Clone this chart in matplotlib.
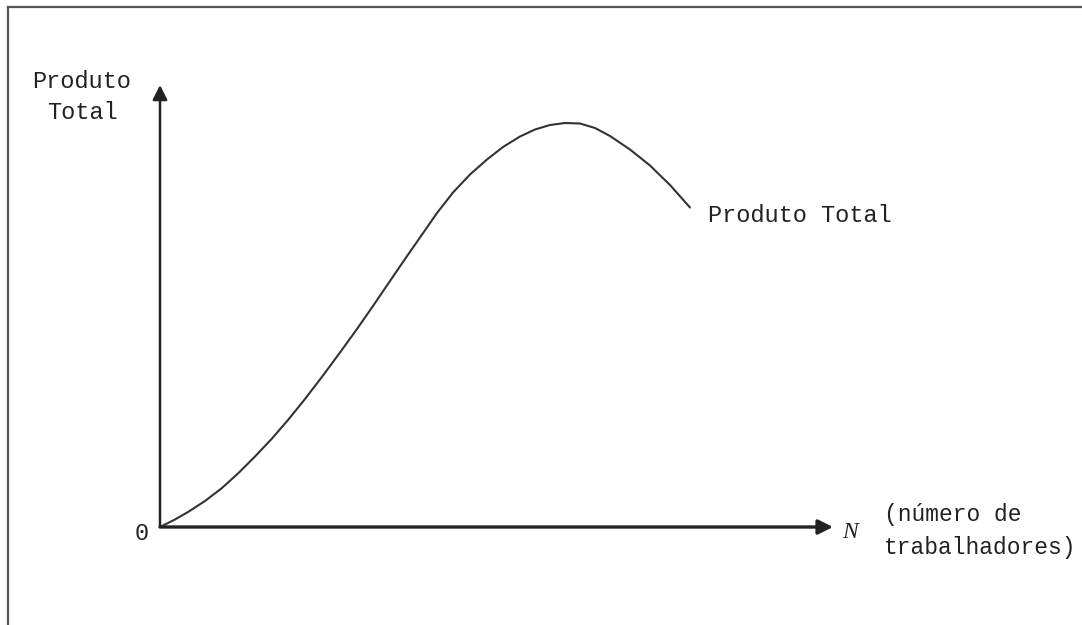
import matplotlib
matplotlib.use("Agg")
import matplotlib.pyplot as plt
from matplotlib.lines import Line2D

# Data (arbitrary units)
workers = [0, 1.5, 2.8, 4.5, 6.2, 7.8, 9.5, 11.2, 12.8, 14.5, 16.3, 18.0, 19.7,
           21.3, 23.0, 24.5, 26.0, 27.7, 29.3, 31.0, 32.7, 34.3, 36.0, 37.5,
           39.0, 40.5, 42.0, 43.5, 45.0, 47.0, 49.0, 51.0, 53.0]
total_product = [0, 0.75, 1.5, 2.6, 3.9, 5.35, 7.05, 8.85, 10.7, 12.8, 15.15,
                 17.45, 19.8, 22.1, 24.6, 26.8, 28.95, 31.4, 33.45, 35.25, 36.75,
                 38.0, 39.05, 39.75, 40.2, 40.4, 40.35, 39.9, 39.1, 37.75, 36.15,
                 34.2, 31.95]

ylabel_text = "Produto\nTotal"
curve_label = "Produto Total"
xlabel_text = "(número de\ntrabalhadores)"
x_symbol = "N"
origin_label = "0"

W, H = 1082, 625
fig = plt.figure(figsize=(W / 100, H / 100), dpi=100)

def fx(px):
    return px / W

def fy(py):
    return 1 - py / H

# frame (top and left borders)
fig.add_artist(Line2D([fx(8), fx(8)], [0, fy(7)], color="#555555", lw=1.6))
fig.add_artist(Line2D([fx(8), 1], [fy(7), fy(7)], color="#555555", lw=1.6))

x0, y0, x1, y1 = 160, 527, 833, 85
ax = fig.add_axes([fx(x0), fy(y0), (x1 - x0) / W, (y0 - y1) / H])
ax.set_xlim(0, 67.3)
ax.set_ylim(0, 44.2)
ax.axis("off")

# axes with arrows
ax.annotate("", xy=(1, 0), xycoords="axes fraction", xytext=(0, 0),
            arrowprops=dict(arrowstyle="-|>", color="#222222", lw=2.4,
                            mutation_scale=22, shrinkA=0, shrinkB=0),
            annotation_clip=False)
ax.annotate("", xy=(0, 1), xycoords="axes fraction", xytext=(0, 0),
            arrowprops=dict(arrowstyle="-|>", color="#222222", lw=1.8,
                            mutation_scale=22, shrinkA=0, shrinkB=0),
            annotation_clip=False)

ax.plot(workers, total_product, color="#333333", lw=1.5, clip_on=False,
        solid_joinstyle="round", solid_capstyle="round")

mono = "Liberation Mono"
tc = "#222222"
fig.text(fx(82), fy(97), ylabel_text, ha="center", va="center", family=mono,
         fontsize=17, color=tc, linespacing=1.45)
fig.text(fx(708), fy(215), curve_label, ha="left", va="center", family=mono,
         fontsize=17, color=tc)
fig.text(fx(884), fy(531), xlabel_text, ha="left", va="center", family=mono,
         fontsize=16.5, color=tc, linespacing=1.6)
fig.text(fx(850), fy(533), x_symbol, ha="center", va="center",
         family="Liberation Serif", style="italic", fontsize=17, color=tc)
fig.text(fx(142), fy(534), origin_label, ha="center", va="center", family=mono,
         fontsize=17, color=tc)

fig.savefig("out.png", dpi=100, facecolor="white")
